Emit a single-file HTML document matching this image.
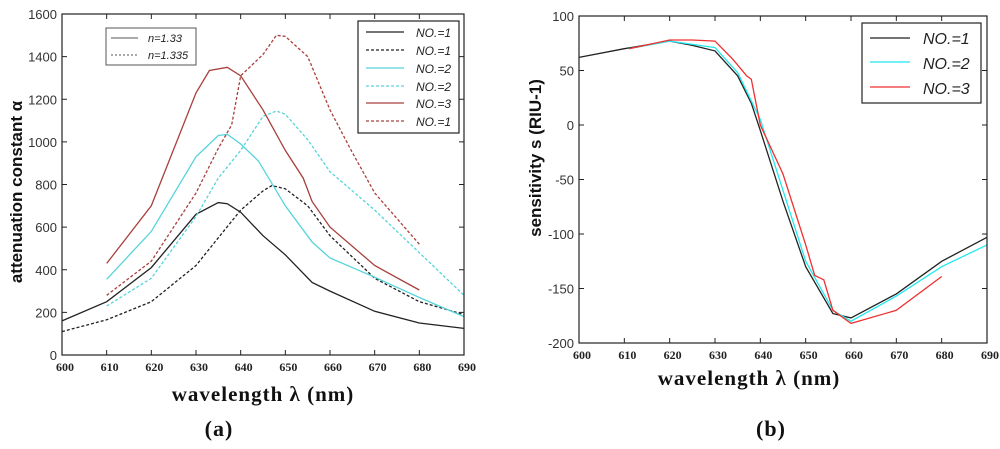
<!DOCTYPE html>
<html><head><meta charset="utf-8"><style>
body{margin:0;background:#fff;}
svg{display:block;}
.tk{font-family:"Liberation Sans",sans-serif;font-size:13px;fill:#333;}
.xt{font-family:"Liberation Serif",serif;font-size:12px;font-weight:bold;fill:#222;}
.tt{font-family:"Liberation Serif",serif;font-size:21px;font-weight:bold;fill:#111;letter-spacing:1px;}
.yt{font-family:"Liberation Sans",sans-serif;font-size:17px;font-weight:bold;fill:#111;}
.lg{font-family:"Liberation Sans",sans-serif;font-style:italic;fill:#222;}
</style></head><body>
<svg id="svg" width="1000" height="449">
<g id="ga"></g>
<g id="gb"></g>
<text x="219" y="436" text-anchor="middle" class="tt" style="font-size:22px">(a)</text>
<text x="771" y="436" text-anchor="middle" class="tt" style="font-size:22px">(b)</text>
</svg>
<script>
// Chart A data
const aXTicks=[600,610,620,630,640,650,660,670,680,690];
const aYTicks=[0,200,400,600,800,1000,1200,1400,1600];
const aBlackSolidX=[600,610,620,630,635,637,640,645,650,656,660,670,680,690];
const aBlackSolidY=[160,250,410,660,715,710,670,560,470,340,300,205,150,125];
const aBlackDashX=[600,610,620,630,635,640,645,647,650,655,660,670,680,690];
const aBlackDashY=[110,165,250,420,550,680,770,795,780,700,560,360,250,190];
const aCyanSolidX=[610,620,630,635,637,640,644,650,656,660,670,680,690];
const aCyanSolidY=[355,580,930,1030,1035,990,910,700,530,455,365,270,180];
const aCyanDashX=[610,620,630,635,640,645,648,650,655,660,670,680,690];
const aCyanDashY=[230,360,650,830,960,1120,1145,1130,1010,860,680,480,280];
const aRedSolidX=[610,620,630,633,637,640,645,650,654,656,660,670,680];
const aRedSolidY=[430,700,1230,1335,1350,1310,1150,960,830,720,600,420,305];
const aRedDashX=[610,620,630,635,638,640,645,648,650,655,660,665,670,680];
const aRedDashY=[280,440,760,970,1080,1310,1410,1500,1495,1400,1150,950,760,520];
// Chart B data
const bXTicks=[600,610,620,630,640,650,660,670,680,690];
const bYTicks=[100,50,0,-50,-100,-150,-200];
const bBlackX=[600,610,620,625,630,635,638,640,645,650,656,660,670,680,690];
const bBlackY=[62,70,77,73,68,45,20,-5,-70,-130,-173,-177,-155,-125,-103];
const bCyanX=[611,620,630,635,640,645,650,656,660,670,680,690];
const bCyanY=[70,77,71,48,5,-60,-125,-170,-180,-157,-130,-110];
const bRedX=[611,620,625,630,634,637,638,640,645,650,652,654,656,660,670,680];
const bRedY=[70,78,78,77,60,45,42,0,-45,-110,-138,-142,-170,-182,-170,-139];

const NS='http://www.w3.org/2000/svg';
function mk(p,t,a){const e=document.createElementNS(NS,t);for(const k in a)e.setAttribute(k,a[k]);p.appendChild(e);return e;}
function axis(x0,x1,d0,d1){return v=>x0+(v-d0)/(d1-d0)*(x1-x0);}

function drawChart(g,L,R,T,B,xd,yd,xticks,yticks,series){
  const sx=axis(L,R,xd[0],xd[1]), sy=axis(B,T,yd[0],yd[1]);
  for(const s of series){
    const p=mk(g,'polyline',{points:s.x.map((v,i)=>sx(v).toFixed(1)+','+sy(s.y[i]).toFixed(1)).join(' '),fill:'none',stroke:s.c,'stroke-width':1.3});
    if(s.d)p.setAttribute('stroke-dasharray','3,2');
    
    
  }
  const fr=mk(g,'rect',{x:L,y:T,width:R-L,height:B-T,fill:'none',stroke:'#222','stroke-width':1.2});
  
  
  for(const v of xticks){
    const x=sx(v);
    mk(g,'line',{x1:x,x2:x,y1:B,y2:B-5,stroke:'#222'});
    mk(g,'line',{x1:x,x2:x,y1:T,y2:T+5,stroke:'#222'});
    const t=mk(g,'text',{x:x+3,y:B+16,'text-anchor':'middle',class:'xt'});t.textContent=v;
    
    
  }
  for(const v of yticks){
    const y=sy(v);
    mk(g,'line',{x1:L,x2:L+5,y1:y,y2:y,stroke:'#222'});
    mk(g,'line',{x1:R,x2:R-5,y1:y,y2:y,stroke:'#222'});
    const t=mk(g,'text',{x:L-5,y:y+5,'text-anchor':'end',class:'tk'});t.textContent=v;
    
    
  }
}
const ga=document.getElementById('ga'), gb=document.getElementById('gb');
drawChart(ga,62,464,14,355,[600,690],[0,1600],aXTicks,aYTicks,[
 {x:aBlackSolidX,y:aBlackSolidY,c:'#222',n:'line-no1-n133'},
 {x:aBlackDashX,y:aBlackDashY,c:'#222',d:1,n:'line-no1-n1335'},
 {x:aCyanSolidX,y:aCyanSolidY,c:'#55d4dc',n:'line-no2-n133'},
 {x:aCyanDashX,y:aCyanDashY,c:'#55d4dc',d:1,n:'line-no2-n1335'},
 {x:aRedSolidX,y:aRedSolidY,c:'#a8403c',n:'line-no3-n133'},
 {x:aRedDashX,y:aRedDashY,c:'#a8403c',d:1,n:'line-no3-n1335'}]);
drawChart(gb,579,987,16,343,[600,690],[-200,100],bXTicks,bYTicks,[
 {x:bBlackX,y:bBlackY,c:'#222',n:'line-no1'},
 {x:bCyanX,y:bCyanY,c:'#22e8ee',n:'line-no2'},
 {x:bRedX,y:bRedY,c:'#f03030',n:'line-no3'}]);
</script>
<svg width="1000" height="449" style="position:absolute;left:0;top:0">
<text class="tt" x="263" y="401" text-anchor="middle">wavelength λ (nm)</text>
<text class="tt" x="749" y="385" text-anchor="middle">wavelength λ (nm)</text>
<text class="yt" transform="translate(22,192) rotate(-90)" text-anchor="middle">attenuation constant α</text>
<text class="yt" transform="translate(541,158) rotate(-90)" text-anchor="middle">sensitivity s (RIU-1)</text>
<g>
<rect x="106" y="28" width="90" height="37" fill="#fff" stroke="#555"/>
<line x1="111" y1="38" x2="138" y2="38" stroke="#555"/>
<line x1="111" y1="55" x2="138" y2="55" stroke="#555" stroke-dasharray="2,2"/>
<text class="lg" x="148" y="42" font-size="11">n=1.33</text>
<text class="lg" x="148" y="59" font-size="11">n=1.335</text>
</g>
<g>
<rect x="358" y="21" width="101" height="112" fill="#fff" stroke="#222" stroke-width="1.2"/>
<line x1="366" y1="32" x2="404" y2="32" stroke="#222" stroke-width="1.3"/>
<line x1="366" y1="50" x2="404" y2="50" stroke="#222" stroke-width="1.3" stroke-dasharray="3,2"/>
<line x1="366" y1="68" x2="404" y2="68" stroke="#55d4dc" stroke-width="1.3"/>
<line x1="366" y1="86" x2="404" y2="86" stroke="#55d4dc" stroke-width="1.3" stroke-dasharray="3,2"/>
<line x1="366" y1="103" x2="404" y2="103" stroke="#a8403c" stroke-width="1.3"/>
<line x1="366" y1="121" x2="404" y2="121" stroke="#a8403c" stroke-width="1.3" stroke-dasharray="3,2"/>
<text class="lg" x="416" y="37" font-size="12">NO.=1</text>
<text class="lg" x="416" y="55" font-size="12">NO.=1</text>
<text class="lg" x="416" y="73" font-size="12">NO.=2</text>
<text class="lg" x="416" y="91" font-size="12">NO.=2</text>
<text class="lg" x="416" y="108" font-size="12">NO.=3</text>
<text class="lg" x="416" y="126" font-size="12">NO.=1</text>
</g>
<g>
<rect x="862" y="23" width="119" height="80" fill="#fff" stroke="#222" stroke-width="1.2"/>
<line x1="870" y1="38" x2="910" y2="38" stroke="#222" stroke-width="1.3"/>
<line x1="870" y1="62" x2="910" y2="62" stroke="#22e8ee" stroke-width="1.3"/>
<line x1="870" y1="87" x2="910" y2="87" stroke="#f03030" stroke-width="1.3"/>
<text class="lg" x="923" y="44" font-size="16">NO.=1</text>
<text class="lg" x="923" y="69" font-size="16">NO.=2</text>
<text class="lg" x="923" y="94" font-size="16">NO.=3</text>
</g>
</svg>
</body></html>
